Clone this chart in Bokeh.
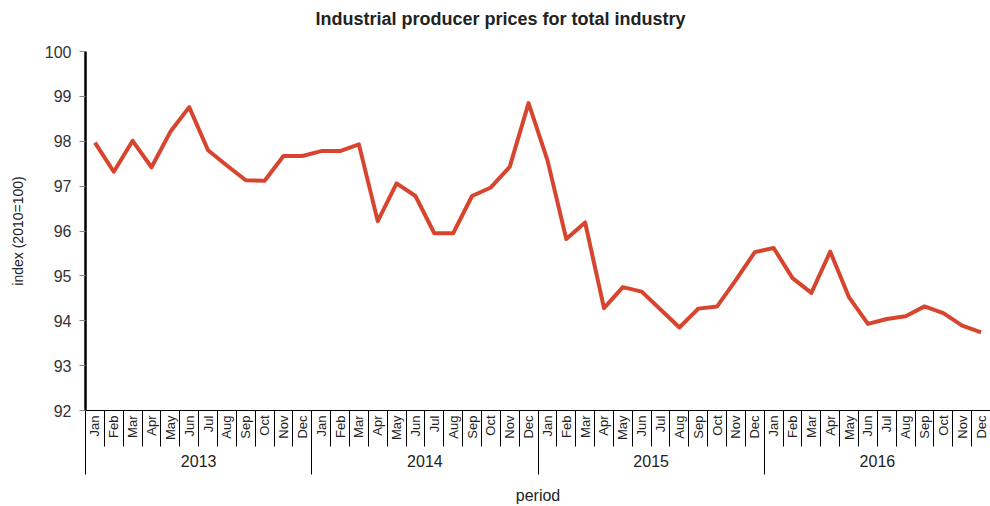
import math
from bokeh.plotting import figure
from bokeh.models import Range1d, LinearAxis, FixedTicker
from bokeh.embed import file_html
from bokeh.resources import INLINE

# ---- data ----
years = ["2013", "2014", "2015", "2016"]
months = ["Jan", "Feb", "Mar", "Apr", "May", "Jun",
          "Jul", "Aug", "Sep", "Oct", "Nov", "Dec"]
index_2013 = [97.97, 97.32, 98.01, 97.42, 98.21, 98.76, 97.80, 97.46, 97.13, 97.12, 97.67, 97.67]
index_2014 = [97.78, 97.78, 97.93, 96.22, 97.06, 96.78, 95.95, 95.95, 96.78, 96.97, 97.43, 98.85]
index_2015 = [97.58, 95.82, 96.19, 94.28, 94.75, 94.65, 94.25, 93.85, 94.27, 94.32, 94.91, 95.53]
index_2016 = [95.62, 94.95, 94.62, 95.54, 94.52, 93.93, 94.04, 94.10, 94.32, 94.17, 93.89, 93.74]
y_ticks = [92, 93, 94, 95, 96, 97, 98, 99, 100]

values = index_2013 + index_2014 + index_2015 + index_2016
n = len(values)
x = list(range(n))

FONT = "Liberation Sans"

p = figure(width=990, height=506,
           x_range=Range1d(-0.5, n - 0.5), y_range=Range1d(92, 100),
           output_backend="svg", toolbar_location=None,
           x_axis_location=None, y_axis_location=None,
           min_border_left=85, min_border_right=0,
           min_border_top=51, min_border_bottom=95)
p.outline_line_color = None
p.grid.visible = False
p.background_fill_color = "white"
p.border_fill_color = "white"

p.title.text = "Industrial producer prices for total industry"
p.title.text_font = FONT
p.title.text_font_size = "18px"
p.title.text_font_style = "bold"
p.title.text_color = "#222222"
p.title.align = "left"
p.title.offset = 230
p.title.vertical_align = "top"
p.title.standoff = 0
p.title.padding = dict(left=0, right=0, top=0, bottom=21)

# y axis
yax = LinearAxis(ticker=FixedTicker(ticks=y_ticks, minor_ticks=[]),
                 axis_label="index (2010=100)")
yax.axis_line_color = "black"
yax.axis_line_width = 2.5
yax.major_tick_out = 6
yax.major_tick_in = 0
yax.major_tick_line_color = "#888888"
yax.minor_tick_line_color = None
yax.major_label_text_font = FONT
yax.major_label_text_font_size = "16px"
yax.major_label_text_color = "#333333"
yax.major_label_standoff = 8
yax.axis_label_text_font = FONT
yax.axis_label_text_font_size = "14px"
yax.axis_label_text_font_style = "normal"
yax.axis_label_text_color = "#222222"
yax.axis_label_standoff = 16
p.add_layout(yax, "left")

# month axis (labels at month centres, separators at boundaries as minor ticks)
month_labels = [months[i % 12] for i in range(n)]
mon_ax = LinearAxis(ticker=FixedTicker(ticks=x, minor_ticks=[i - 0.5 for i in range(n)]))
mon_ax.major_label_overrides = {i: month_labels[i] for i in range(n)}
mon_ax.major_label_orientation = math.pi / 2
mon_ax.major_tick_out = 0
mon_ax.major_tick_in = 0
mon_ax.minor_tick_out = 0
mon_ax.minor_tick_in = -36
mon_ax.minor_tick_line_color = "black"
mon_ax.minor_tick_line_width = 1
mon_ax.axis_line_color = "black"
mon_ax.axis_line_width = 1
mon_ax.major_label_text_font = FONT
mon_ax.major_label_text_font_size = "13px"
mon_ax.major_label_text_color = "#222222"
mon_ax.major_label_standoff = 5
p.add_layout(mon_ax, "below")

# year axis
year_centres = [12 * k + 5.5 for k in range(len(years))]
year_bounds = [12 * k - 0.5 for k in range(len(years))]
yr_ax = LinearAxis(ticker=FixedTicker(ticks=year_centres, minor_ticks=year_bounds),
                   axis_label="period")
yr_ax.major_label_overrides = {c: yv for c, yv in zip(year_centres, years)}
yr_ax.axis_line_color = None
yr_ax.major_tick_out = 0
yr_ax.major_tick_in = 0
yr_ax.minor_tick_out = 0
yr_ax.minor_tick_in = -31
yr_ax.minor_tick_line_color = "black"
yr_ax.minor_tick_line_width = 1
yr_ax.major_label_text_font = FONT
yr_ax.major_label_text_font_size = "16px"
yr_ax.major_label_text_color = "#222222"
yr_ax.major_label_standoff = 11
yr_ax.axis_label_text_font = FONT
yr_ax.axis_label_text_font_size = "16px"
yr_ax.axis_label_text_font_style = "normal"
yr_ax.axis_label_text_color = "#222222"
yr_ax.axis_label_standoff = 17
p.add_layout(yr_ax, "below")

p.line(x, values, line_color="#d8452f", line_width=4, line_join="round")

open("out.html", "w").write(file_html(p, INLINE))
